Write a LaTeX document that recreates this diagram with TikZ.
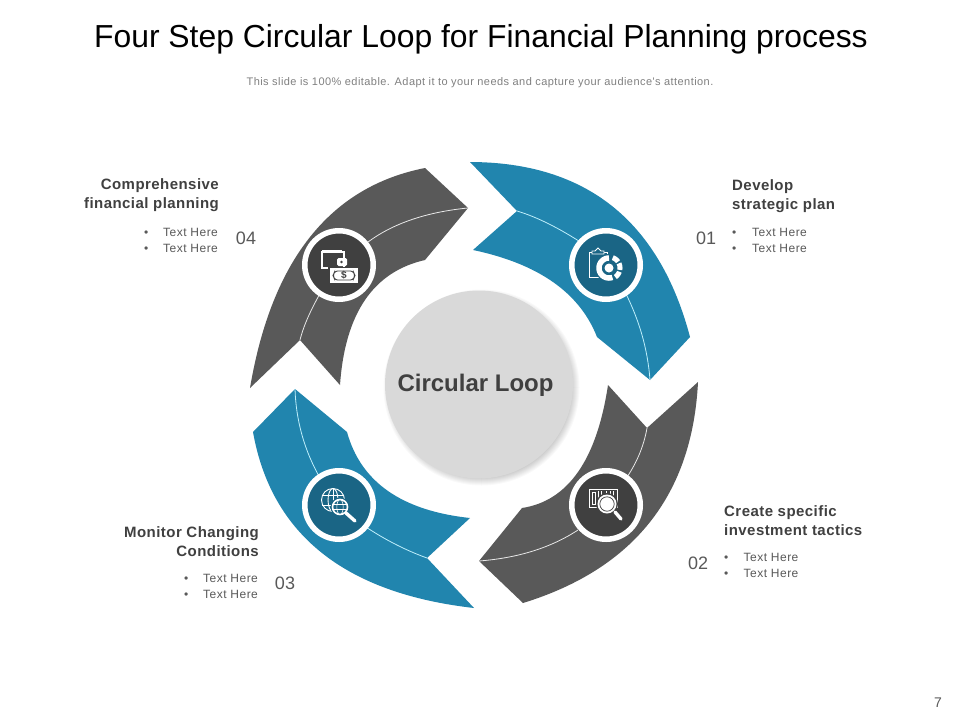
\documentclass[tikz,border=0pt]{standalone}
\usepackage{fontspec}
\setmainfont{Liberation Sans}
\newfontfamily\spacedfont[LetterSpace=4]{Liberation Sans}
\newfontfamily\spacedhead[LetterSpace=3]{Liberation Sans}
\definecolor{petalblue}{HTML}{2185AE}
\definecolor{petalgray}{HTML}{595959}
\definecolor{hubblue}{HTML}{1A6585}
\definecolor{hubgray}{HTML}{404040}
\definecolor{lineblue}{HTML}{BFEFFB}
\definecolor{linegray}{HTML}{E8E8E8}
\definecolor{headtext}{HTML}{404040}
\definecolor{bodytext}{HTML}{595959}
\definecolor{hubfill}{HTML}{D9D9D9}
\tikzset{
  x=1pt,y=-1pt,
  petalb/.style={fill=petalblue},
  petalg/.style={fill=petalgray},
  seamb/.style={draw=lineblue,line width=0.8pt},
  seamg/.style={draw=linegray,line width=0.8pt},
  ringb/.style={circle,draw=white,line width=5.5pt,fill=hubblue,minimum size=68.5pt,inner sep=0pt},
  ringg/.style={circle,draw=white,line width=5.5pt,fill=hubgray,minimum size=68.5pt,inner sep=0pt},
  iconline/.style={draw=white,line width=0.9pt},
  title/.style={font=\fontsize{31.85}{34}\selectfont,text=black,inner sep=0pt,anchor=base},
  sub/.style={font=\spacedfont\fontsize{11}{13}\selectfont,text=gray,inner sep=0pt,anchor=base},
  headl/.style={font=\spacedhead\fontsize{15}{19}\selectfont\bfseries,text=headtext,inner sep=0pt,anchor=base west,align=left},
  headr/.style={font=\spacedhead\fontsize{15}{19}\selectfont\bfseries,text=headtext,inner sep=0pt,anchor=base east,align=right},
  item/.style={font=\spacedfont\fontsize{12}{14}\selectfont,text=bodytext,inner sep=0pt,anchor=base west},
  num/.style={font=\fontsize{18}{20}\selectfont,text=bodytext,inner sep=0pt,anchor=base},
}
\begin{document}
\begin{tikzpicture}
\useasboundingbox[fill=white] (0,0) rectangle (960,720);
% petals
\fill[petalb] (470,162) .. controls (586,162.3) and (659.3,220.7) .. (690,337)
  -- (650,380) -- (597,337) .. controls (579.7,292.7) and (538.3,263.7) .. (473,250) -- (517,211) -- cycle;
\fill[petalg] (250,388) .. controls (271.7,260) and (330,186.7) .. (425,168)
  -- (468,208) -- (425,260) .. controls (373.3,271.7) and (345,313.3) .. (340,385) -- (300,340) -- cycle;
\fill[petalg] (698,382) .. controls (692.3,495) and (634,568.7) .. (523,603)
  -- (479,561) -- (522,508) .. controls (568,501) and (596.7,460) .. (608,385) -- (647,428) -- cycle;
\fill[petalb] (253,432) .. controls (271.3,534.7) and (345,593.3) .. (474,608)
  -- (427,558) -- (470,518) .. controls (401.7,510.7) and (360.7,482) .. (347,432) -- (295,389) -- cycle;
% seams
\draw[seamb] (517,211) .. controls (537,217) and (559.7,228.3) .. (585,245);
\draw[seamb] (625,292) .. controls (639.3,320) and (647.7,349.3) .. (650,380);
\draw[seamg] (468,208) .. controls (426.7,212) and (393.3,223.3) .. (368,242);
\draw[seamg] (325,285) .. controls (312,306.7) and (303.7,325) .. (300,340);
\draw[seamg] (479,561) .. controls (518,558) and (551,547.7) .. (578,530);
\draw[seamg] (625,480) .. controls (636.3,464) and (643.7,446.7) .. (647,428);
\draw[seamb] (295,389) .. controls (296,420.7) and (304.3,450.3) .. (320,478);
\draw[seamb] (360,523) .. controls (381.7,538) and (404,549.7) .. (427,558);
% hub shadow
\foreach \r in {98,97,96,95,94,93,92,91,90}{\fill[black,opacity=0.022] (481.5,387.5) circle[radius=\r pt];}
\node[circle,fill=hubfill,minimum size=188pt,inner sep=0pt] (hub) at (479,384.5) {};
\node[font=\fontsize{24}{26}\selectfont\bfseries,text=headtext,inner sep=0pt] (hublabel) at (475.5,385) {Circular Loop};
% rings
\node[ringb] (ring1) at (606,265) {};
\node[ringg] (ring2) at (606,505) {};
\node[ringb] (ring3) at (339,505) {};
\node[ringg] (ring4) at (339,265) {};
% icon 1: clipboard and segmented donut
\draw[iconline] (592,252) -- (589,252) -- (589,277) -- (607,277) (604,252) -- (607,252) -- (607,262);
\draw[iconline,fill=hubblue] (592,254) -- (592,251) -- (595,251) -- (598,248) -- (601,251) -- (604,251) -- (604,254) -- cycle;
\draw[draw=hubblue,line width=9pt] plot[domain=100:300,samples=30] ({609+9.5*cos(\x)},{268+9.5*sin(\x)});
\draw[draw=white,line width=5.5pt] plot[domain=70:270,samples=30] ({609+10*cos(\x)},{268+10*sin(\x)});
\draw[draw=white,line width=5pt] plot[domain=20:55,samples=8] ({609+11*cos(\x)},{268+11*sin(\x)});
\draw[draw=white,line width=5pt] plot[domain=-25:10,samples=8] ({609+11*cos(\x)},{268+11*sin(\x)});
\draw[draw=white,line width=5pt] plot[domain=-70:-35,samples=8] ({609+11*cos(\x)},{268+11*sin(\x)});
\fill[white] (609,268) circle[radius=4.5pt];
% icon 2: barcode and magnifier
\draw[iconline] (589,489) rectangle (617,507);
\draw[iconline] (592.5,492) rectangle (595.5,504);
\foreach \bx in {598.5,601,606,610,613.5}{\draw[iconline] (\bx,491) -- (\bx,499);}
\fill[hubgray] (607,504) circle[radius=11pt];
\fill[white] (607,504) circle[radius=9.5pt];
\draw[hubgray,line width=0.7pt] (607,504) circle[radius=7.2pt];
\draw[white,line width=3.4pt,line cap=round] (615,512) -- (621,519);
% icon 3: globe and magnifier
\draw[iconline] (333,500) circle[radius=11.5pt];
\draw[iconline] (333,500) ellipse[x radius=5pt,y radius=11.5pt];
\draw[iconline] (333,488.5) -- (333,511.5) (322,495) -- (344,495) (322,505) -- (344,505);
\fill[hubblue] (340,507) circle[radius=9.5pt];
\draw[white,line width=1.6pt] (340,507) circle[radius=7.5pt];
\draw[iconline,line width=0.6pt] (340,507) ellipse[x radius=3.2pt,y radius=7.5pt] (333,504.5) -- (347,504.5) (333,509.5) -- (347,509.5);
\draw[white,line width=3.4pt,line cap=round] (346,513) -- (355,521);
% icon 4: wallet and banknote
\draw[iconline,line width=1.1pt] (322,252) rectangle (344,268);
\draw[white,line width=1.2pt] (322,250.5) -- (342,250.5);
\fill[white,rounded corners=1.5pt] (337,258) rectangle (347,266);
\fill[hubgray] (341.5,262) circle[radius=1.3pt];
\fill[hubgray] (328,266.5) rectangle (360,285);
\fill[white] (330,268) rectangle (358,283);
\draw[hubgray,line width=0.9pt,rounded corners=2.5pt] (335,271) -- (353,271) -- (355,275.5) -- (353,280) -- (335,280) -- (333,275.5) -- cycle;
\node[font=\fontsize{10}{10}\selectfont\bfseries,text=hubgray,inner sep=0pt] (dollar) at (344,275.5) {\$};
% title
\node[title] (heading) at (481,47) {Four Step Circular Loop for Financial Planning process};
\node[sub] (subheading) at (480,85) {This slide is 100\% editable. Adapt it to your needs and capture your audience's attention.};
% 01
\node[headl] (h1a) at (732,190.3) {Develop};
\node[headl] (h1b) at (732,209.3) {strategic plan};
\node[num] (n1) at (706,244.5) {01};
\node[item] (b1a) at (732,236.7) {•}; \node[item] (t1a) at (752,236.7) {Text Here};
\node[item] (b1b) at (732,252.7) {•}; \node[item] (t1b) at (752,252.7) {Text Here};
% 02
\node[headl] (h2a) at (724,516.3) {Create specific};
\node[headl] (h2b) at (724,535.3) {investment tactics};
\node[num] (n2) at (698,569.5) {02};
\node[item] (b2a) at (724,561.7) {•}; \node[item] (t2a) at (743.5,561.7) {Text Here};
\node[item] (b2b) at (724,577.7) {•}; \node[item] (t2b) at (743.5,577.7) {Text Here};
% 03
\node[headr] (h3a) at (259,537.3) {Monitor Changing};
\node[headr] (h3b) at (259,556.3) {Conditions};
\node[num] (n3) at (285,589.5) {03};
\node[item] (b3a) at (184,582.7) {•}; \node[item] (t3a) at (203,582.7) {Text Here};
\node[item] (b3b) at (184,598.7) {•}; \node[item] (t3b) at (203,598.7) {Text Here};
% 04
\node[headr] (h4a) at (219,189.3) {Comprehensive};
\node[headr] (h4b) at (219,208.3) {financial planning};
\node[num] (n4) at (246,244.5) {04};
\node[item] (b4a) at (144,236.7) {•}; \node[item] (t4a) at (163,236.7) {Text Here};
\node[item] (b4b) at (144,252.7) {•}; \node[item] (t4b) at (163,252.7) {Text Here};
% page number
\node[font=\fontsize{14}{16}\selectfont,text=bodytext,inner sep=0pt,anchor=base] (pageno) at (938,707) {7};
\end{tikzpicture}
\end{document}
